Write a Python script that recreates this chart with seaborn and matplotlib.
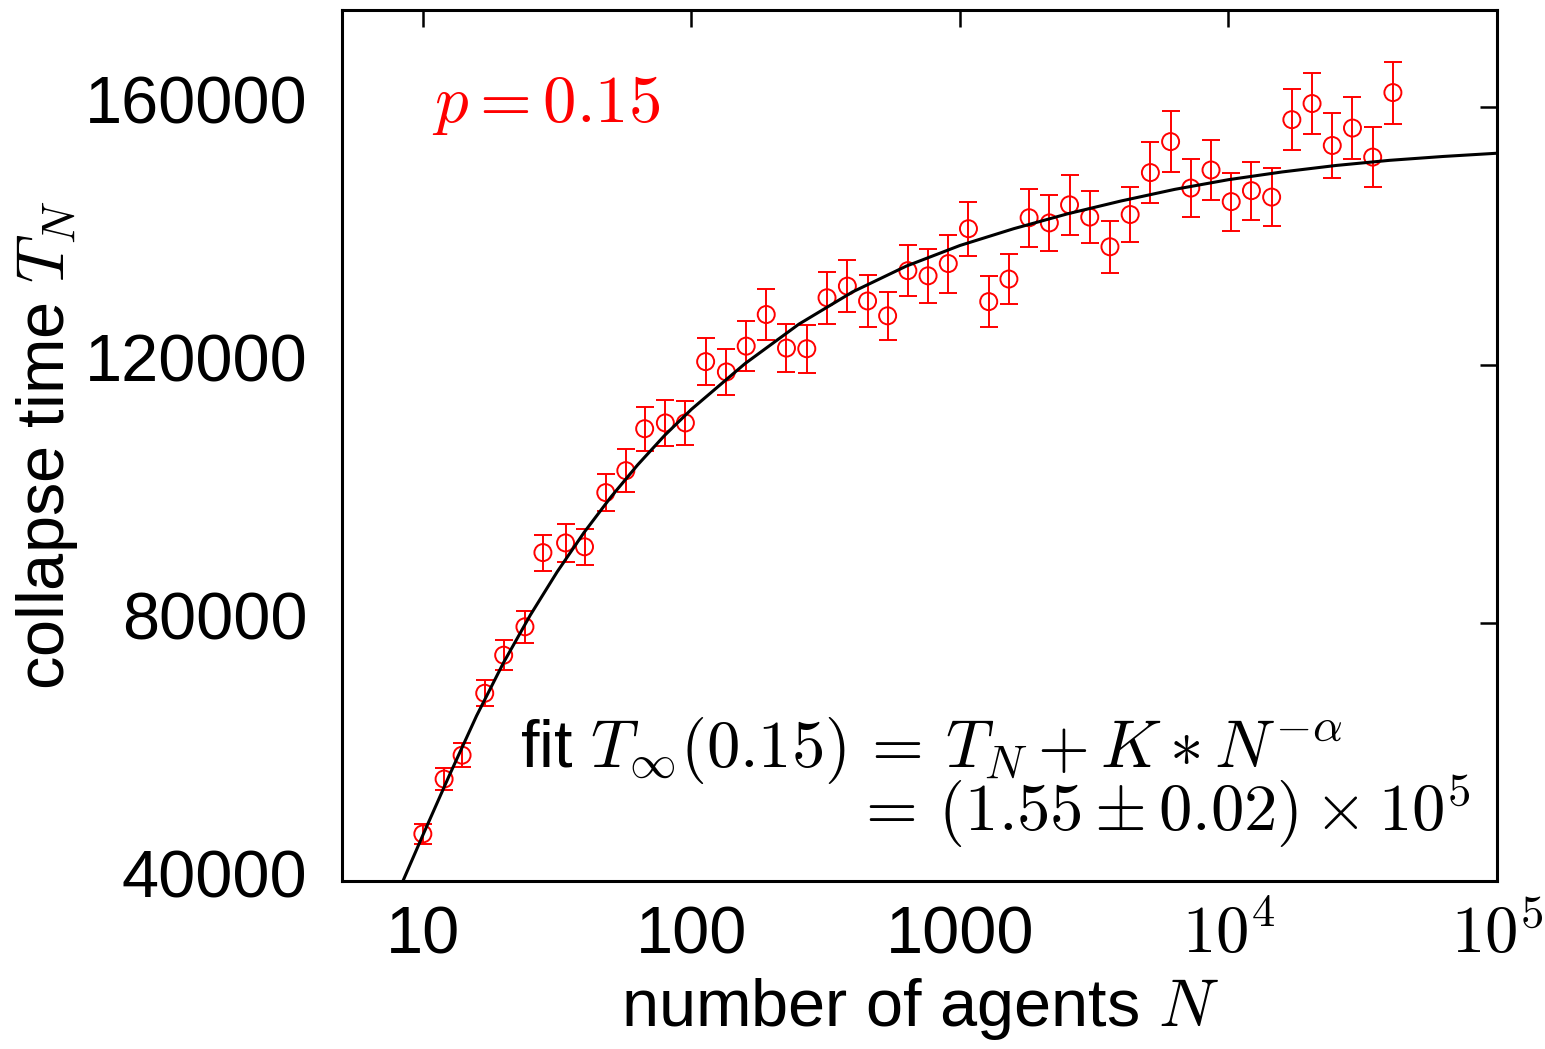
#!/usr/bin/env python3
"""Collapse time T_N vs number of agents N (p = 0.15) with power-law fit."""

import matplotlib
matplotlib.use('Agg')
import matplotlib.pyplot as plt
import seaborn as sns

# measured collapse times
n_agents = [10, 12, 14, 17, 20, 24, 28, 34, 40, 48, 57, 67, 80, 95, 113, 135, 160,
            190, 226, 269, 320, 381, 453, 538, 640, 761, 905, 1076, 1280, 1522,
            1810, 2153, 2560, 3044, 3620, 4305, 5120, 6089, 7241, 8611, 10240,
            12177, 14482, 17222, 20480, 24355, 28963, 34443, 40960]
collapse_time = [47300, 55800, 59500, 69100, 75000, 79400, 90900, 92400, 91800,
                 100200, 103600, 110100, 111000, 111000, 120500, 118900, 122900,
                 127800, 122600, 122500, 130400, 132200, 129900, 127600, 134600,
                 133800, 135700, 141100, 129800, 133300, 142800, 142000, 144800,
                 142900, 138300, 143300, 149800, 154600, 147400, 150200, 145300,
                 147000, 146000, 158000, 160500, 154000, 156700, 152200, 162200]
collapse_err = [1600, 1700, 1900, 2000, 2300, 2500, 2800, 2900, 2800, 2900, 3300,
                3400, 3600, 3400, 3700, 3600, 3900, 3900, 3700, 3700, 4000, 4000,
                4000, 3700, 4000, 4200, 4500, 4200, 3900, 3900, 4500, 4300, 4700,
                4000, 4000, 4200, 4700, 4700, 4500, 4700, 4500, 4500, 4500, 4700,
                4700, 5000, 4800, 4700, 4800]

# fit curve
fit_n = [7.94, 10, 12.59, 15.85, 19.95, 25.12, 31.62, 39.81, 50.12, 63.10, 79.43,
         100, 158.5, 251.2, 398.1, 631.0, 1000, 1585, 2512, 3981, 6310, 10000,
         15850, 25120, 39810, 63100, 100000]
fit_t = [37500, 47100, 56500, 65600, 73800, 81200, 87900, 94000, 99500, 104500,
         109050, 113100, 120200, 126300, 131300, 135300, 138500, 141100, 143400,
         145400, 147200, 148700, 149900, 150900, 151700, 152300, 152800]

x_ticks = [10, 100, 1000, 10000, 100000]
x_ticklabels = ['10', '100', '1000', r'$10^4$', r'$10^5$']
y_ticks = [40000, 80000, 120000, 160000]

sns.set_theme(style='white')
plt.rcParams['font.family'] = ['Liberation Sans', 'DejaVu Sans']
plt.rcParams['mathtext.fontset'] = 'cm'
plt.rcParams['font.size'] = 48
plt.rcParams['text.color'] = 'black'
plt.rcParams['axes.labelcolor'] = 'black'
plt.rcParams['xtick.color'] = 'black'
plt.rcParams['ytick.color'] = 'black'

fig = plt.figure(figsize=(15.45, 10.49), dpi=100)
ax = fig.add_axes([342 / 1545, 1 - 881 / 1049, 1155 / 1545, 871 / 1049])

ax.errorbar(n_agents, collapse_time, yerr=collapse_err, fmt='none',
            ecolor='red', elinewidth=1.4, capsize=6.5, capthick=1.4, zorder=2)
sns.scatterplot(x=n_agents, y=collapse_time, ax=ax, marker='o', s=150,
                facecolor='none', edgecolor='red', linewidth=1.4, zorder=3)
sns.lineplot(x=fit_n, y=fit_t, ax=ax, color='black', linewidth=2.2, zorder=4)

ax.set_xscale('log')
ax.set_xlim(5, 100000)
ax.set_ylim(40000, 175000)
ax.set_xticks(x_ticks)
ax.set_xticklabels(x_ticklabels)
ax.set_yticks(y_ticks)
ax.set_yticklabels([str(v) for v in y_ticks])
ax.minorticks_off()

ax.tick_params(axis='both', which='major', direction='in', length=12, width=1.8,
               top=True, right=True, labelsize=48, color='black',
               labelcolor='black')
ax.tick_params(axis='x', pad=52)
ax.tick_params(axis='y', pad=25)
for lbl in ax.get_xticklabels():
    lbl.set_verticalalignment('baseline')
for lbl in ax.get_yticklabels():
    lbl.set_verticalalignment('center')

for sp in ax.spines.values():
    sp.set_linewidth(2.2)
    sp.set_color('black')

ax.set_xlabel(r'number of agents $N$', fontsize=48, labelpad=6)
ax.set_ylabel(r'collapse time $T_N$', fontsize=48)
ax.yaxis.set_label_coords(-0.227, 0.5)

ax.text(0.078, 0.871, r'$p = 0.15$', transform=ax.transAxes, color='red',
        fontsize=48, ha='left', va='baseline')
ax.text(0.154, 0.131, r'fit $T_\infty(0.15) \,=\, T_N + K \ast N^{-\alpha}$',
        transform=ax.transAxes, fontsize=48, ha='left', va='baseline')
ax.text(0.443, 0.057, r'$=\, (1.55 \pm 0.02) \times 10^5$',
        transform=ax.transAxes, fontsize=48, ha='left', va='baseline')

plt.savefig('out.png', dpi=100)
plt.close()
print('Saved: out.png')
